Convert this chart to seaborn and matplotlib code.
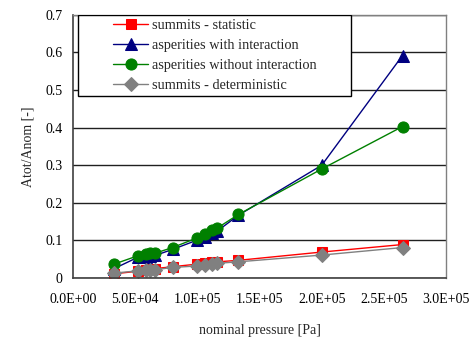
import matplotlib
matplotlib.use('Agg')
import matplotlib.pyplot as plt
from matplotlib.patches import Rectangle
import seaborn as sns
import pandas as pd
import numpy as np

# DATA
pressure = [3.3e4, 5.2e4, 5.9e4, 6.2e4, 6.6e4, 8.0e4, 1.0e5, 1.06e5, 1.12e5, 1.16e5, 1.33e5, 2.0e5, 2.65e5]
summits_stat = [0.011, 0.018, 0.022, 0.024, 0.025, 0.030, 0.037, 0.040, 0.042, 0.043, 0.047, 0.069, 0.089]
asp_with = [0.025, 0.055, 0.057, 0.058, 0.060, 0.076, 0.101, 0.110, 0.120, 0.125, 0.167, 0.300, 0.592]
asp_without = [0.037, 0.059, 0.064, 0.066, 0.066, 0.081, 0.107, 0.117, 0.127, 0.133, 0.169, 0.290, 0.403]
summits_det = [0.013, 0.019, 0.021, 0.021, 0.022, 0.028, 0.032, 0.034, 0.037, 0.039, 0.043, 0.061, 0.081]

names = ['summits - statistic', 'asperities with interaction',
         'asperities without interaction', 'summits - deterministic']
colors = ['#ff0000', '#000080', '#008000', '#808080']
marks = ['s', '^', 'o', 'D']
msizes = [7, 8, 8, 7]

xtick_labels = ['0.0E+00', '5.0E+04', '1.0E+05', '1.5E+05', '2.0E+05', '2.5E+05', '3.0E+05']
ytick_labels = ['0', '0.1', '0.2', '0.3', '0.4', '0.5', '0.6', '0.7']

df = pd.DataFrame({
    'pressure': pressure * 4,
    'ratio': summits_stat + asp_with + asp_without + summits_det,
    'series': np.repeat(names, len(pressure)),
})

sns.set_style('white')
plt.rcParams['font.family'] = ['Liberation Serif', 'DejaVu Serif']

fig = plt.figure(figsize=(4.75, 3.39), dpi=100)
ax = fig.add_axes([0.154, 0.18, 0.785, 0.776])

for name, col, mk, ms in zip(names, colors, marks, msizes):
    sns.lineplot(data=df[df['series'] == name], x='pressure', y='ratio',
                 color=col, marker=mk, markersize=ms, markeredgecolor=col,
                 linewidth=1.0, label=name, sort=False, ax=ax)

ax.set_xlim(0, 3.0e5)
ax.set_ylim(0, 0.7)
ax.set_xticks(np.arange(0, 3.01e5, 5e4))
ax.set_xticklabels(xtick_labels)
ax.set_yticks(np.arange(0, 0.71, 0.1))
ax.set_yticklabels(ytick_labels)
ax.tick_params(axis='both', labelsize=10, direction='out', length=4, width=1, colors='#404040',
               labelcolor='black')
ax.tick_params(axis='x', pad=7)
ax.yaxis.grid(True, color='#202020', linewidth=1)
ax.set_axisbelow(True)

for s in ['top', 'right']:
    ax.spines[s].set_color('#808080')
    ax.spines[s].set_linewidth(1)
for s in ['left', 'bottom']:
    ax.spines[s].set_color('#404040')
    ax.spines[s].set_linewidth(1.2)

ax.set_xlabel('nominal pressure [Pa]', fontsize=10, labelpad=13)
ax.set_ylabel('Atot/Anom [-]', fontsize=10, labelpad=8)

# legend box drawn separately so the handles can sit inset like the original
ax.add_patch(Rectangle((0.0134, 0.692), 0.732, 0.308, transform=ax.transAxes,
                       facecolor='white', edgecolor='black', linewidth=1, zorder=5))
leg = ax.legend(loc='upper left', bbox_to_anchor=(0.108, 0.983), borderaxespad=0,
                borderpad=0, frameon=False, fontsize=10.3,
                handlelength=2.4, handletextpad=0.3, labelspacing=0.48)
leg.set_zorder(6)

fig.savefig('out.png', dpi=100)
